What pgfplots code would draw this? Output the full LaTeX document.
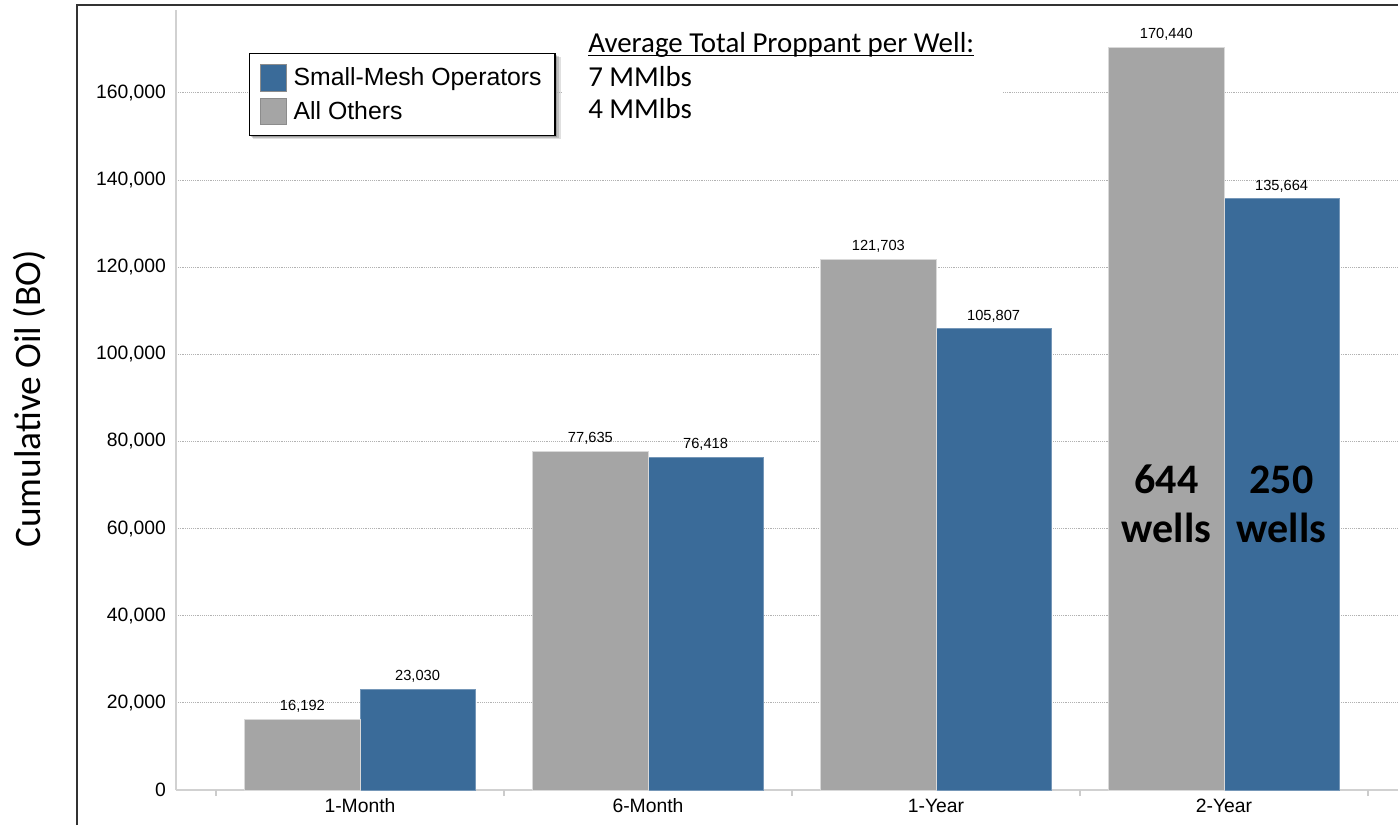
\documentclass[border=0pt]{standalone}
\usepackage{pgfplots}
\pgfplotsset{compat=1.18}
\usepackage{fontspec}
\setmainfont{Liberation Sans}
\newfontfamily\carlito{Carlito}
\definecolor{smblue}{HTML}{3A6B99}
\definecolor{aogrey}{HTML}{A5A5A5}
\newlength\ulw
\newcommand\myul[1]{\settowidth\ulw{#1}\rlap{\rule[-2.4pt]{\ulw}{1pt}}#1}
\pgfplotsset{sq legend/.style={legend image code/.code={\draw[##1, draw=black!45, line width=0.6pt] (0pt,-10pt) rectangle (19.5pt,10pt);}}}
\begin{document}
\begin{tikzpicture}[x=0.75pt,y=0.75pt]
\path[use as bounding box] (0,0) rectangle (1398,825);
% soft shadow behind the legend box
\fill[black, opacity=0.12] (253,686) rectangle (561,768);
\fill[black, opacity=0.15] (252,687) rectangle (559,769);
\fill[black, opacity=0.18] (251,688) rectangle (557,770);
\begin{axis}[
  at={(132pt,26.25pt)}, anchor=south west,
  width=916.5pt, height=585pt, scale only axis,
  xmin=-0.6389, xmax=3.6042, ymin=0, ymax=179000,
  axis lines*=left,
  axis line style={draw=black!18, line width=0.8pt},
  xtick={0,1,2,3}, xticklabels={1-Month,6-Month,1-Year,2-Year},
  major tick length=0pt, tick align=outside,
  tick style={draw=black!20, line width=0.8pt},
  extra x ticks={-0.5,0.5,1.5,2.5,3.5}, extra x tick labels={},
  extra x tick style={major tick length=4.5pt, xmajorgrids=false},
  ytick distance=20000, scaled y ticks=false,
  ymajorgrids, grid style={densely dotted, draw=black!30, line width=0.6pt},
  tick label style={font=\fontsize{14.5}{16}\selectfont},
  xticklabel style={yshift=-3pt},
  yticklabel style={xshift=-4pt},
  /pgf/number format/assume math mode=true,
  yticklabel style={/pgf/number format/.cd, fixed, precision=0, 1000 sep={,}},
  bar width=0.4,
  nodes near coords={\pgfmathprintnumber[fixed,precision=0,1000 sep={,},assume math mode=true]{\pgfplotspointmeta}},
  every node near coord/.append style={font=\fontsize{11}{13}\selectfont, yshift=1.5pt, black},
  legend style={at={(0.0597,0.9449)}, anchor=north west, draw=black, line width=0.8pt, fill=white,
    font=\fontsize{18.6}{21}\selectfont,
    inner xsep=8pt, inner ysep=8pt, row sep=4.5pt, column sep=3pt},
  legend cell align=left,
]
\addplot[ybar, bar shift=0.2, fill=smblue, draw=smblue!70!white, line width=0.7pt, sq legend,
  every node near coord/.append style={xshift=43.2pt}]
  coordinates {(0,23030) (1,76418) (2,105807) (3,135664)};
\addlegendentry{Small-Mesh Operators}
\addplot[ybar, bar shift=-0.2, fill=aogrey, draw=black!15, line width=0.7pt, sq legend,
  every node near coord/.append style={xshift=-43.2pt}]
  coordinates {(0,16192) (1,77635) (2,121703) (3,170440)};
\addlegendentry{All Others}
\node[font=\carlito\bfseries\fontsize{31.5}{36.75}\selectfont, align=center] at (axis cs:2.8,65600) {644\\wells};
\node[font=\carlito\bfseries\fontsize{31.5}{36.75}\selectfont, align=center] at (axis cs:3.2,65600) {250\\wells};
\end{axis}
\fill[white] (562,690) rectangle (1003,807);
\node[anchor=base west, inner sep=0pt, font=\carlito\fontsize{21.7}{24.75}\selectfont] at (588,772) {\myul{Average Total Proppant per Well:}};
\node[anchor=base west, inner sep=0pt, font=\carlito\fontsize{21.7}{24.75}\selectfont] at (588,738) {7 MMlbs};
\node[anchor=base west, inner sep=0pt, font=\carlito\fontsize{21.7}{24.75}\selectfont] at (588,706) {4 MMlbs};
\draw[black!80, line width=1.5pt] (77,0) -- (77,820) -- (1398,820);
\node[rotate=90, anchor=base, inner sep=0pt, font=\carlito\fontsize{28}{30}\selectfont] at (40,426) {Cumulative Oil (BO)};
\end{tikzpicture}
\end{document}
